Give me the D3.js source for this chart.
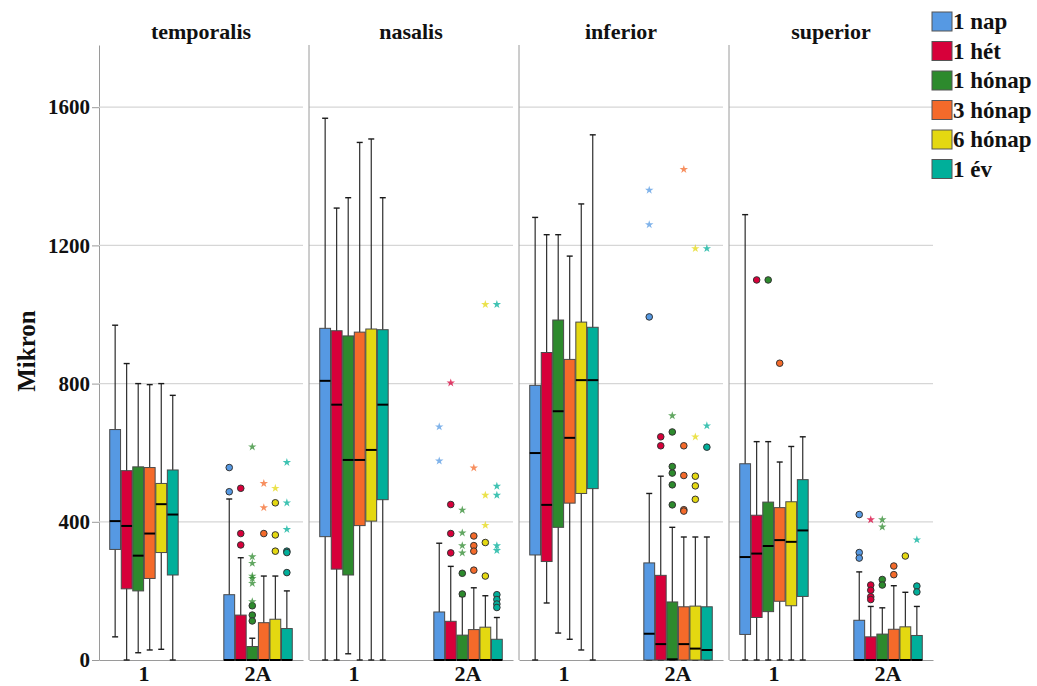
<!DOCTYPE html>
<html>
<head>
<meta charset="utf-8">
<script src="https://cdn.jsdelivr.net/npm/d3@7"></script>
<style>
  body { margin: 0; background: #fff; }
  text { font-family: "Liberation Serif", "DejaVu Serif", serif; font-weight: bold; fill: #111; }
</style>
</head>
<body>
<svg width="1037" height="686"></svg>
<script>
// categories
const regions = ["temporalis", "nasalis", "inferior", "superior"];
const groups = ["1", "2A"];
const times = ["1 nap", "1 hét", "1 hónap", "3 hónap", "6 hónap", "1 év"];
const colors = ["#5699e3", "#d7003a", "#2d8a2d", "#f46a2a", "#e4d811", "#00af9a"];
const yTicks = [0, 400, 800, 1200, 1600];

// box stats per time: [whisker low, q1, median, q3, whisker high]
const temporalis1 = [[67,320,402,667,969],[0,206,388,548,858],[21,200,302,559,800],[29,236,366,557,797],[31,311,451,511,800],[0,246,421,550,766]];
const temporalis2A = [[0,0,0,189,466],[0,0,0,130,296],[0,0,0,39,63],[0,0,0,108,243],[0,0,0,118,243],[0,0,0,91,200]];
const nasalis1 = [[0,357,808,960,1568],[0,263,739,953,1308],[18,246,579,938,1338],[0,389,579,949,1498],[0,402,608,958,1508],[0,464,739,956,1338]];
const nasalis2A = [[0,0,0,139,338],[0,0,0,112,271],[0,0,0,72,184],[0,0,0,88,209],[0,0,0,95,186],[0,0,0,60,123]];
const inferior1 = [[0,304,599,795,1281],[165,285,449,890,1231],[78,384,720,984,1231],[60,454,643,870,1169],[29,482,810,978,1320],[0,496,810,963,1520]];
const inferior2A = [[0,0,76,281,482],[0,0,46,245,532],[0,0,2,168,384],[0,0,46,154,356],[0,0,33,156,356],[0,0,29,154,356]];
const superior1 = [[0,74,298,568,1289],[0,123,308,419,632],[0,140,330,457,632],[0,170,347,441,573],[0,157,342,458,618],[0,184,375,522,646]];
const superior2A = [[0,0,0,115,255],[0,0,0,67,155],[0,0,0,75,151],[0,0,0,89,215],[0,0,0,96,196],[0,0,0,71,155]];

// outliers: [group, time index, value, kind] (o = circle, * = extreme)
const temporalisOut = [
  ["2A",0,557,"o"],["2A",0,487,"o"],
  ["2A",1,497,"o"],["2A",1,366,"o"],["2A",1,333,"o"],
  ["2A",2,617,"*"],["2A",2,299,"*"],["2A",2,280,"*"],["2A",2,243,"*"],["2A",2,236,"*"],["2A",2,222,"*"],["2A",2,169,"*"],["2A",2,157,"o"],["2A",2,130,"o"],["2A",2,113,"o"],
  ["2A",3,511,"*"],["2A",3,441,"*"],["2A",3,366,"o"],
  ["2A",4,497,"*"],["2A",4,455,"o"],["2A",4,362,"o"],["2A",4,315,"o"],
  ["2A",5,572,"*"],["2A",5,455,"*"],["2A",5,378,"*"],["2A",5,315,"o"],["2A",5,311,"o"],["2A",5,253,"o"]
];
const nasalisOut = [
  ["2A",0,675,"*"],["2A",0,576,"*"],
  ["2A",1,802,"*"],["2A",1,450,"o"],["2A",1,366,"o"],["2A",1,310,"o"],
  ["2A",2,434,"*"],["2A",2,368,"*"],["2A",2,331,"*"],["2A",2,310,"*"],["2A",2,251,"o"],["2A",2,191,"o"],
  ["2A",3,556,"*"],["2A",3,359,"o"],["2A",3,331,"o"],["2A",3,315,"o"],["2A",3,260,"o"],
  ["2A",4,1029,"*"],["2A",4,477,"*"],["2A",4,390,"*"],["2A",4,340,"o"],["2A",4,243,"o"],
  ["2A",5,1029,"*"],["2A",5,503,"*"],["2A",5,477,"*"],["2A",5,331,"*"],["2A",5,317,"*"],["2A",5,189,"o"],["2A",5,175,"o"],["2A",5,162,"o"],["2A",5,152,"o"]
];
const inferiorOut = [
  ["2A",0,1360,"*"],["2A",0,1260,"*"],["2A",0,993,"o"],
  ["2A",1,646,"o"],["2A",1,620,"o"],
  ["2A",2,707,"*"],["2A",2,660,"o"],["2A",2,560,"o"],["2A",2,541,"o"],["2A",2,507,"o"],["2A",2,449,"o"],
  ["2A",3,1420,"*"],["2A",3,620,"o"],["2A",3,534,"o"],["2A",3,435,"o"],["2A",3,431,"o"],
  ["2A",4,1191,"*"],["2A",4,646,"*"],["2A",4,532,"o"],["2A",4,504,"o"],["2A",4,465,"o"],
  ["2A",5,1191,"*"],["2A",5,678,"*"],["2A",5,616,"o"]
];
const superiorOut = [
  ["1",1,1100,"o"],["1",2,1100,"o"],["1",3,859,"o"],
  ["2A",0,421,"o"],["2A",0,311,"o"],["2A",0,295,"o"],
  ["2A",1,406,"*"],["2A",1,217,"o"],["2A",1,202,"o"],["2A",1,183,"o"],["2A",1,175,"o"],
  ["2A",2,406,"*"],["2A",2,385,"*"],["2A",2,233,"o"],["2A",2,217,"o"],
  ["2A",3,272,"o"],["2A",3,247,"o"],
  ["2A",4,301,"o"],
  ["2A",5,348,"*"],["2A",5,214,"o"],["2A",5,197,"o"]
];

const stats = {
  temporalis: { "1": temporalis1, "2A": temporalis2A },
  nasalis: { "1": nasalis1, "2A": nasalis2A },
  inferior: { "1": inferior1, "2A": inferior2A },
  superior: { "1": superior1, "2A": superior2A }
};
const outliers = { temporalis: temporalisOut, nasalis: nasalisOut, inferior: inferiorOut, superior: superiorOut };

const plotTop = 45, plotBottom = 660;
const svg = d3.select("svg");

const y = d3.scaleLinear().domain([0, 1780]).range([plotBottom, plotTop]);

const xPanel = d3.scaleBand()
  .domain(regions)
  .range([99, 933])
  .paddingInner(6 / 210);

const xGroup = d3.scaleBand()
  .domain(groups)
  .range([0, xPanel.bandwidth()])
  .paddingInner(0.4)
  .paddingOuter(0.094);

const xTime = d3.scaleBand()
  .domain(d3.range(times.length))
  .range([0, xGroup.bandwidth()])
  .paddingInner(0.06);

// y axis
const yAxis = svg.append("g")
  .attr("transform", `translate(${xPanel(regions[0])},0)`)
  .call(d3.axisLeft(y).tickValues(yTicks).tickFormat(d3.format("d"))
    .tickSizeInner(7).tickSizeOuter(0).tickPadding(2));
yAxis.select(".domain").attr("stroke", "#9a9a9a");
yAxis.selectAll(".tick line").attr("stroke", "#9a9a9a");
yAxis.selectAll(".tick text").style("font-size", "21px").attr("fill", "#111");
yAxis.attr("font-family", null);

svg.append("text")
  .attr("transform", `translate(35,351) rotate(-90)`)
  .attr("text-anchor", "middle")
  .style("font-size", "25px")
  .text("Mikron");

regions.forEach((region, ri) => {
  const px = xPanel(region);
  const g = svg.append("g").attr("transform", `translate(${px},0)`);

  // gridlines
  g.selectAll(".grid")
    .data(yTicks.filter(t => t > 0))
    .enter().append("line")
    .attr("x1", 0).attr("x2", xPanel.bandwidth())
    .attr("y1", d => y(d)).attr("y2", d => y(d))
    .attr("stroke", "#d6d6d6").attr("stroke-width", 1.2);

  if (ri > 0) {
    g.append("line")
      .attr("x1", 0).attr("x2", 0)
      .attr("y1", plotTop).attr("y2", plotBottom)
      .attr("stroke", "#9a9a9a");
  }

  // x axis
  const xa = g.append("g")
    .attr("transform", `translate(0,${plotBottom})`)
    .call(d3.axisBottom(xGroup).tickSize(0).tickPadding(5));
  xa.select(".domain").attr("stroke", "#9a9a9a");
  xa.selectAll(".tick text").style("font-size", "22px").attr("fill", "#111");
  xa.attr("font-family", null);

  // title
  g.append("text")
    .attr("x", xPanel.bandwidth() / 2)
    .attr("y", 39)
    .attr("text-anchor", "middle")
    .style("font-size", "22px")
    .text(region);

  groups.forEach(grp => {
    const gx = xGroup(grp);
    const rows = stats[region][grp].map((s, i) => ({ i, lo: s[0], q1: s[1], med: s[2], q3: s[3], hi: s[4] }));
    const bw = xTime.bandwidth();
    const bg = g.append("g").attr("transform", `translate(${gx},0)`);
    const cx = d => xTime(d.i) + bw / 2;

    // whiskers
    bg.selectAll(".wl").data(rows).enter().append("line")
      .attr("x1", cx).attr("x2", cx)
      .attr("y1", d => y(d.lo)).attr("y2", d => y(d.hi))
      .attr("stroke", "#1a1a1a").attr("stroke-width", 1.1);
    ["lo", "hi"].forEach(k => {
      bg.selectAll(".cap" + k).data(rows).enter().append("line")
        .attr("x1", d => cx(d) - 3).attr("x2", d => cx(d) + 3)
        .attr("y1", d => y(d[k])).attr("y2", d => y(d[k]))
        .attr("stroke", "#1a1a1a").attr("stroke-width", 1.4);
    });

    // boxes
    bg.selectAll(".box").data(rows).enter().append("rect")
      .attr("x", d => xTime(d.i))
      .attr("width", bw)
      .attr("y", d => y(d.q3))
      .attr("height", d => y(d.q1) - y(d.q3))
      .attr("fill", d => colors[d.i])
      .attr("stroke", "#4a4a4a").attr("stroke-width", 1);

    // medians
    bg.selectAll(".med").data(rows).enter().append("line")
      .attr("x1", d => xTime(d.i)).attr("x2", d => xTime(d.i) + bw)
      .attr("y1", d => y(d.med)).attr("y2", d => y(d.med))
      .attr("stroke", "#000").attr("stroke-width", 2);

    // outliers
    const outs = outliers[region].filter(o => o[0] === grp).map(o => ({ i: o[1], v: o[2], k: o[3] }));
    bg.selectAll(".oc").data(outs.filter(o => o.k === "o")).enter().append("circle")
      .attr("cx", cx).attr("cy", d => y(d.v)).attr("r", 3.3)
      .attr("fill", d => colors[d.i])
      .attr("stroke", "#333").attr("stroke-width", 1);
    bg.selectAll(".os").data(outs.filter(o => o.k === "*")).enter().append("path")
      .attr("d", d3.symbol(d3.symbolStar, 22))
      .attr("transform", d => `translate(${cx(d)},${y(d.v)})`)
      .attr("fill", d => colors[d.i])
      .attr("fill-opacity", 0.75);
  });
});

// legend
const legend = svg.append("g").attr("transform", "translate(932,12)");
const item = legend.selectAll(".item").data(times).enter().append("g")
  .attr("transform", (d, i) => `translate(0,${i * 29.5})`);
item.append("rect")
  .attr("width", 20).attr("height", 19)
  .attr("fill", (d, i) => colors[i])
  .attr("stroke", "#555").attr("stroke-width", 1);
item.append("text")
  .attr("x", 21).attr("y", 17)
  .style("font-size", "23px")
  .text(d => d);
</script>
</body>
</html>
